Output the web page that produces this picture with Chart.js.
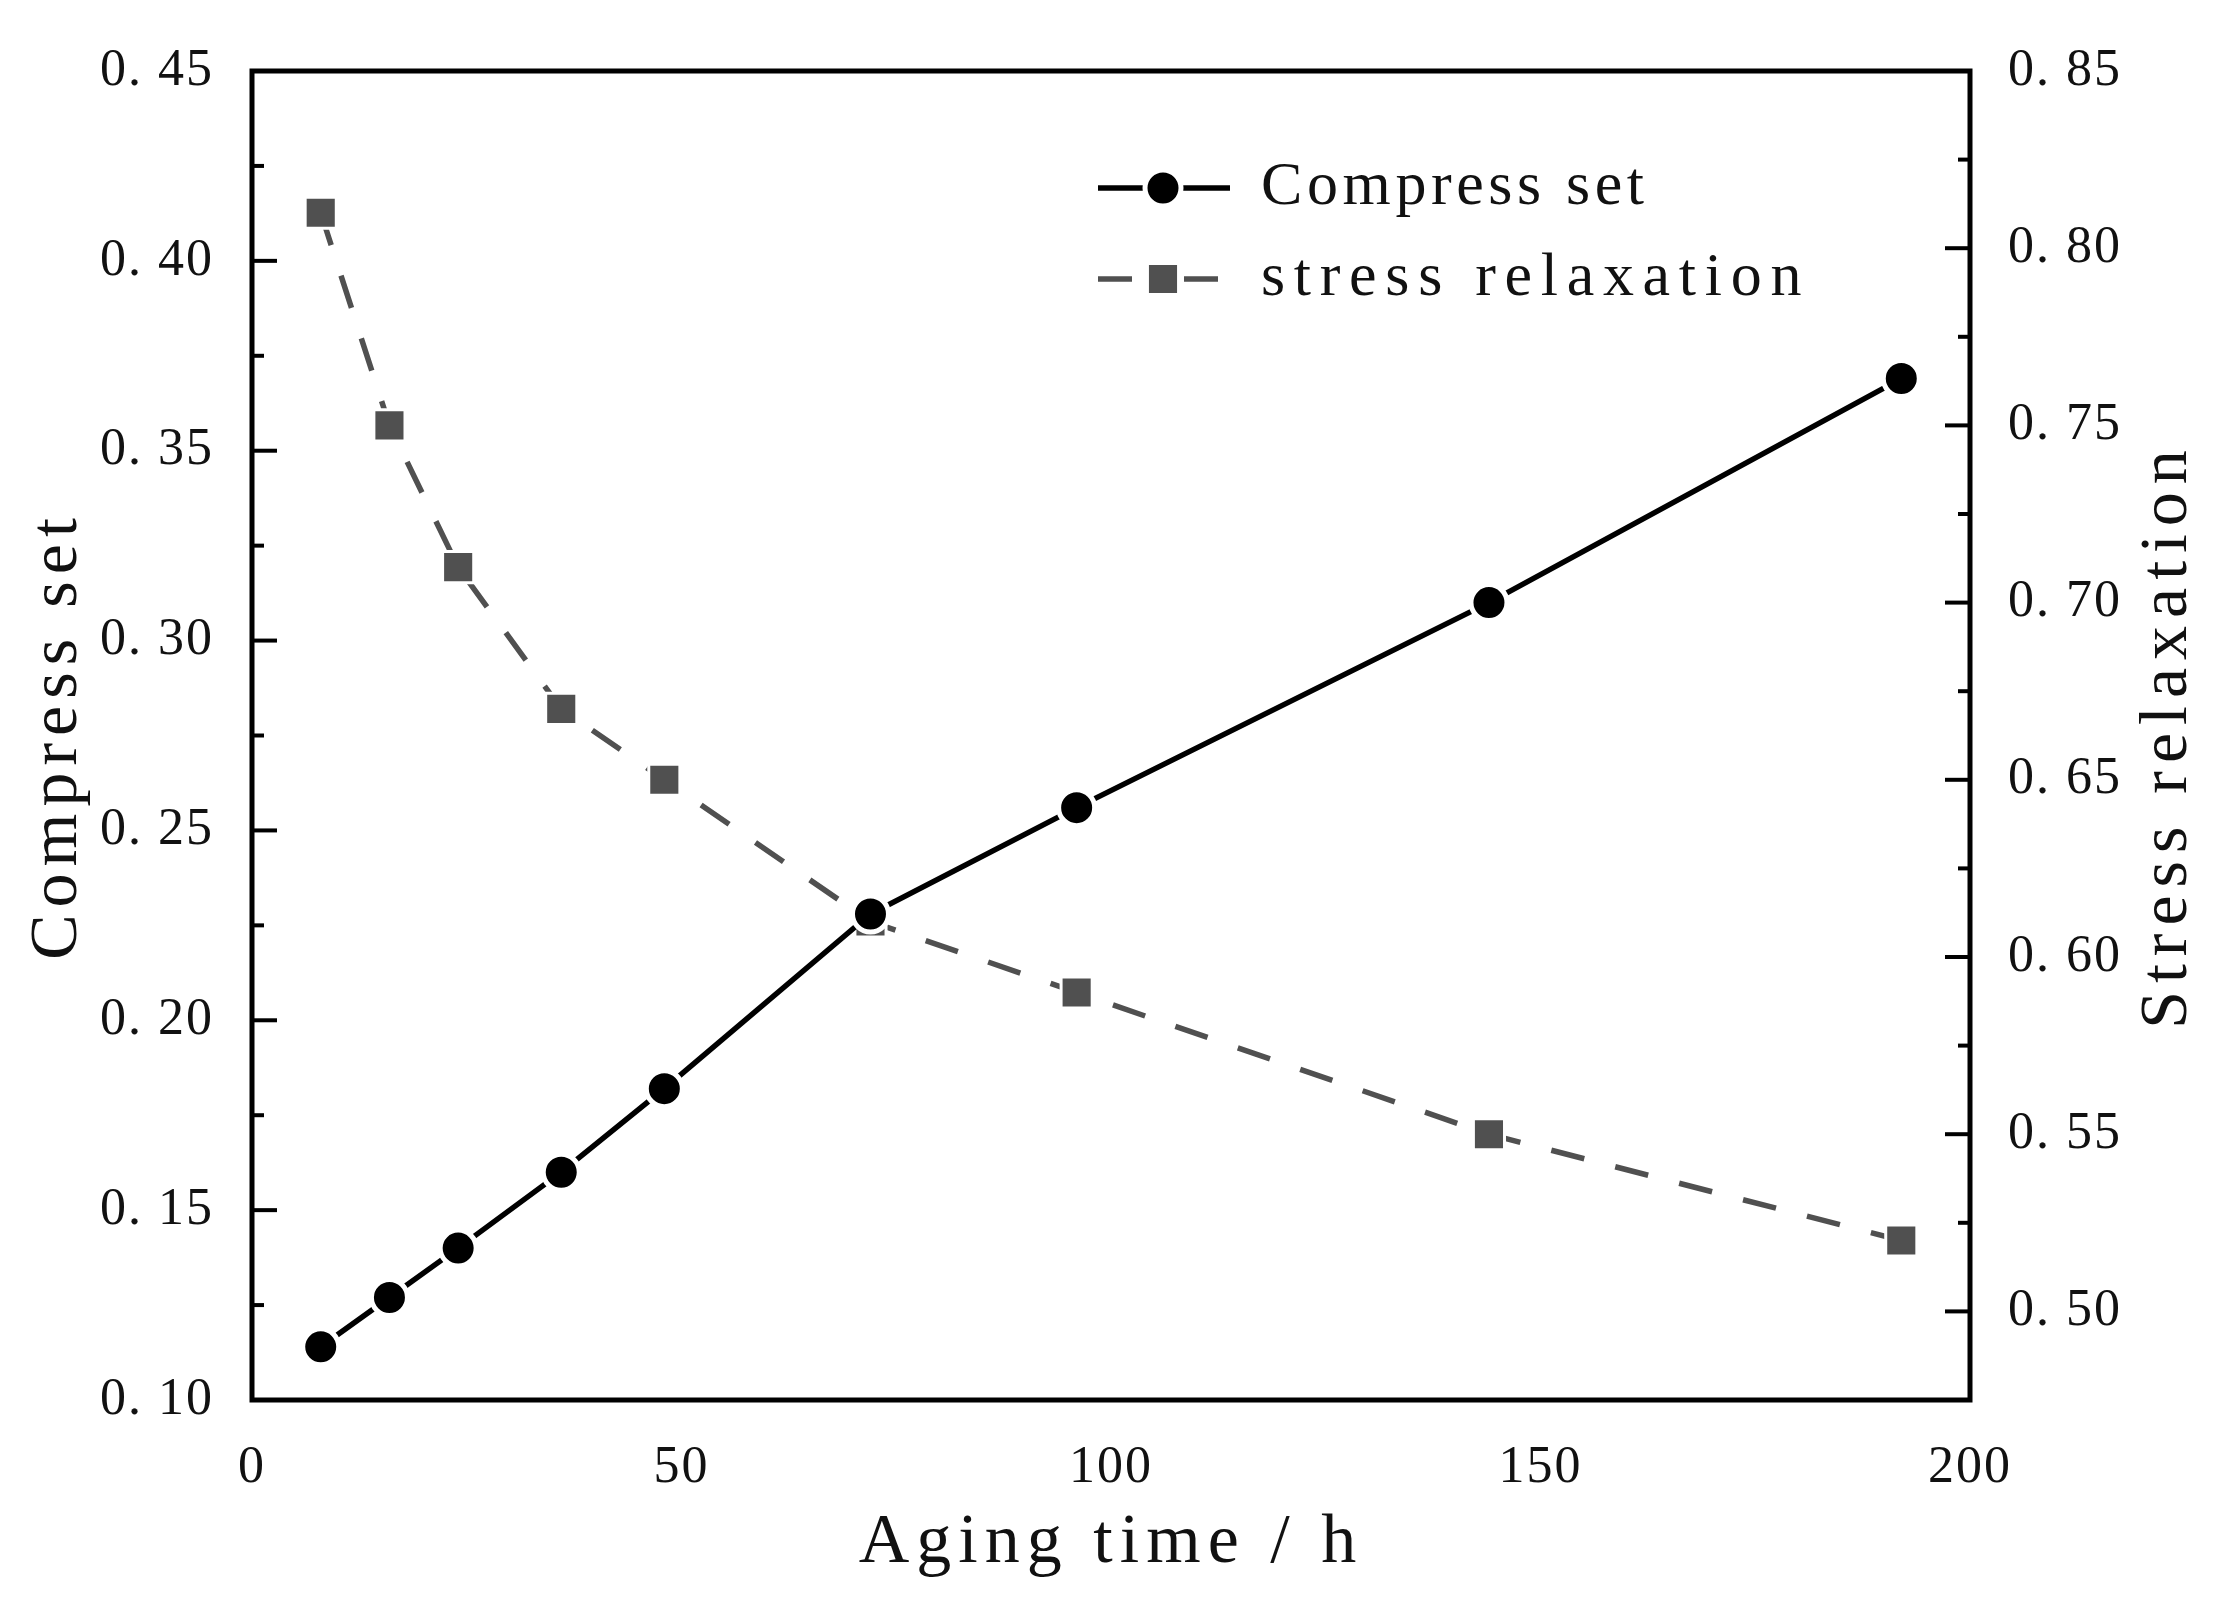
<!DOCTYPE html>
<html>
<head>
<meta charset="utf-8">
<script src="https://cdn.jsdelivr.net/npm/chart.js@4.4.1/dist/chart.umd.min.js"></script>
<style>
  html, body { margin: 0; padding: 0; background: #fff; }
  #wrap { width: 2222px; height: 1605px; }
</style>
</head>
<body>
<div id="wrap"><canvas id="c" width="2222" height="1605"></canvas></div>
<script>
// 老化時間 (h)
const agingTime = [8, 16, 24, 36, 48, 72, 96, 144, 192];
// 壓縮永久變形（左軸）
const compressSet = [0.114, 0.127, 0.140, 0.160, 0.182, 0.228, 0.256, 0.310, 0.369];
// 應力鬆弛（右軸）
const stressRelaxation = [0.81, 0.75, 0.71, 0.67, 0.65, 0.61, 0.59, 0.55, 0.52];

// 刻度
const xTicks = [0, 50, 100, 150, 200];
const leftTicks = [0.10, 0.15, 0.20, 0.25, 0.30, 0.35, 0.40, 0.45];
const rightTicks = [0.50, 0.55, 0.60, 0.65, 0.70, 0.75, 0.80, 0.85];

const SERIF = "'Liberation Serif', 'DejaVu Serif', serif";
const INK = '#111';
const GREY = '#505050';
const RIGHT_TITLE = 'Stress relaxation';

// 0.45 → "0. 45"（原圖字型的樣子）
const fmt = (v) => v.toFixed(2).replace('.', '. ');
const toPoints = (ys) => agingTime.map((x, i) => ({ x, y: ys[i] }));

// 原圖為等寬字：以字距把文字撐到「字數 × 每字寬」
const fitSpacing = (ctx, text, perChar) => {
  ctx.letterSpacing = '0px';
  const w = ctx.measureText(text).width;
  return Math.max(0, (text.length * perChar - w) / text.length);
};

// 主/次刻度往內畫 + 外框 + 右軸標題 + 圖例
const framePlugin = {
  id: 'frame',
  beforeDraw(chart) {
    chart.ctx.letterSpacing = '7px';   // 軸標題
  },
  afterDatasetsDraw(chart) {
    chart.ctx.letterSpacing = '2px';   // 刻度文字
  },
  afterDraw(chart) {
    const { ctx, chartArea: a, scales } = chart;
    ctx.save();
    ctx.letterSpacing = '0px';
    ctx.strokeStyle = '#000';
    ctx.lineWidth = 5;
    ctx.strokeRect(a.left, a.top, a.right - a.left, a.bottom - a.top);

    ctx.lineWidth = 4;
    const tick = (scale, vals, len, side) => {
      vals.forEach((v) => {
        const y = scale.getPixelForValue(v);
        ctx.beginPath();
        if (side === 'left') { ctx.moveTo(a.left, y); ctx.lineTo(a.left + len, y); }
        else { ctx.moveTo(a.right, y); ctx.lineTo(a.right - len, y); }
        ctx.stroke();
      });
    };
    tick(scales.y, leftTicks, 25, 'left');
    tick(scales.y, leftTicks.slice(0, -1).map((v) => v + 0.025), 12, 'left');
    tick(scales.y2, rightTicks, 25, 'right');
    tick(scales.y2, rightTicks.slice(0, -1).map((v) => v + 0.025), 12, 'right');

    // 右軸標題（由下往上讀）
    ctx.save();
    ctx.font = `68px ${SERIF}`;
    ctx.fillStyle = INK;
    ctx.letterSpacing = fitSpacing(ctx, RIGHT_TITLE, 34.5) + 'px';
    ctx.translate(scales.y2.right - 54, (a.top + a.bottom) / 2);
    ctx.rotate(-Math.PI / 2);
    ctx.textAlign = 'center';
    ctx.textBaseline = 'middle';
    ctx.fillText(RIGHT_TITLE, 0, 0);
    ctx.restore();

    // 圖例
    const rows = [a.top + 117, a.top + 208];
    const x0 = a.left + 846, x1 = a.left + 978, xm = a.left + 911, xt = a.left + 1009;
    chart.data.datasets.forEach((ds, i) => {
      const y = rows[i];
      ctx.save();
      ctx.strokeStyle = ds.borderColor;
      ctx.lineWidth = ds.borderWidth;
      ctx.beginPath();
      if (ds.borderDash) {
        ctx.moveTo(x0, y); ctx.lineTo(x0 + 34, y);
        ctx.moveTo(xm + 21, y); ctx.lineTo(xm + 55, y);
      } else {
        ctx.moveTo(x0, y); ctx.lineTo(x1, y);
      }
      ctx.stroke();
      ctx.restore();
      ctx.fillStyle = ds.pointBackgroundColor;
      ctx.strokeStyle = ds.pointBorderColor;
      ctx.lineWidth = ds.pointBorderWidth;
      Chart.helpers.drawPoint(ctx, {
        pointStyle: ds.pointStyle, rotation: 0,
        radius: ds.pointRadius, borderWidth: ds.pointBorderWidth,
      }, xm, y);
      ctx.fillStyle = INK;
      ctx.font = `62px ${SERIF}`;
      ctx.letterSpacing = fitSpacing(ctx, ds.label, 32.3) + 'px';
      ctx.textAlign = 'left';
      ctx.textBaseline = 'middle';
      ctx.fillText(ds.label, xt, y);
    });
    ctx.restore();
  },
};

const tickFont = { family: SERIF, size: 52 };
const titleFont = { family: SERIF, size: 70 };

new Chart(document.getElementById('c'), {
  type: 'line',
  data: {
    datasets: [
      {
        label: 'Compress set',
        data: toPoints(compressSet),
        yAxisID: 'y',
        borderColor: '#000',
        backgroundColor: '#000',
        borderWidth: 5.5,
        tension: 0,
        pointStyle: 'circle',
        pointRadius: 18,
        pointBackgroundColor: '#000',
        pointBorderColor: '#fff',
        pointBorderWidth: 5,
      },
      {
        label: 'stress relaxation',
        data: toPoints(stressRelaxation),
        yAxisID: 'y2',
        borderColor: GREY,
        backgroundColor: GREY,
        borderWidth: 5.5,
        borderDash: [34, 32],
        tension: 0,
        pointStyle: 'rect',
        pointRadius: 22,
        pointBackgroundColor: GREY,
        pointBorderColor: '#fff',
        pointBorderWidth: 3,
      },
    ],
  },
  options: {
    responsive: false,
    animation: false,
    events: [],
    layout: { padding: { top: 71, left: 0, right: 0, bottom: 0 } },
    plugins: { legend: { display: false }, tooltip: { enabled: false } },
    scales: {
      x: {
        type: 'linear',
        min: 0, max: 200,
        afterBuildTicks: (s) => { s.ticks = xTicks.map((value) => ({ value })); },
        afterFit: (s) => { s.height = 205; },
        grid: { display: false },
        border: { display: false },
        ticks: { font: tickFont, color: INK, padding: 29, maxRotation: 0, z: 1 },
        title: { display: true, text: 'Aging time / h', font: titleFont, color: INK, padding: { top: 0, bottom: 19 } },
      },
      y: {
        position: 'left',
        min: 0.10, max: 0.45,
        afterBuildTicks: (s) => { s.ticks = leftTicks.map((value) => ({ value })); },
        afterFit: (s) => { s.width = 252; },
        grid: { display: false },
        border: { display: false },
        ticks: { font: tickFont, color: INK, padding: 30, callback: (v) => fmt(v), z: 1 },
        title: { display: true, text: 'Compress set', font: { family: SERIF, size: 68 }, color: INK, padding: { top: 17, bottom: 0 } },
      },
      y2: {
        position: 'right',
        min: 0.475, max: 0.85,
        afterBuildTicks: (s) => { s.ticks = rightTicks.map((value) => ({ value })); },
        afterFit: (s) => { s.width = 252; },
        grid: { display: false },
        border: { display: false },
        ticks: { font: tickFont, color: INK, padding: 30, callback: (v) => fmt(v), z: 1 },
        title: { display: false },
      },
    },
  },
  plugins: [framePlugin],
});
</script>
</body>
</html>
